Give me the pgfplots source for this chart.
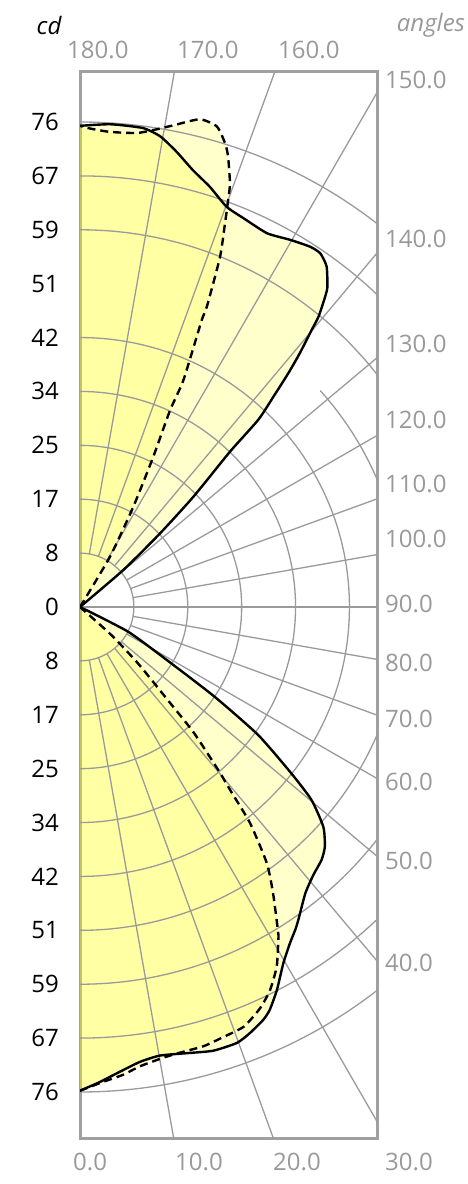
\documentclass[border=0pt]{standalone}
\usepackage{pgfplots}
\pgfplotsset{compat=1.18}
\usepackage{pgfplotstable}
\usepackage{fontspec}
\setmainfont{Open Sans}
\definecolor{gridgray}{HTML}{9A9A9A}
\definecolor{framegray}{HTML}{A0A0A0}
\definecolor{labelgray}{HTML}{999999}
\definecolor{fillyel}{HTML}{FFFF00}

% solid curve, lower half (0-90 deg)
\pgfplotstableread{
a r
0 75.8
2.4 74.5
4.9 73.1
7.5 71.9
10.1 71.4
13.5 71.9
16.7 72.6
19.8 72.6
21.7 71.9
23.9 70.8
25.2 69.8
27.2 67.5
29.7 64.3
32.0 62.1
33.7 60.8
34.9 59.8
38.2 57.1
41.0 55.7
43.7 54.8
45.6 53.7
47.9 51.4
50.2 47.2
51.8 42.1
54.3 34.4
56.3 25.4
58.3 16.8
62.8 8.5
62.8 0
}\solidlow
% solid curve, upper half (90-180 deg)
\pgfplotstableread{
a r
130.5 0
130.5 8.9
132.6 17.0
134.2 24.8
136.0 33.8
136.4 40.5
137.4 44.8
138.3 49.1
139.1 52.6
140.1 56.6
140.6 58.9
141.7 62.0
142.3 63.4
144.1 65.9
145.8 67.0
147.4 67.0
150.2 66.3
153.4 65.5
157.2 66.1
159.9 66.8
162.8 68.9
165.5 70.7
168.0 72.9
170.3 74.8
172.5 75.7
176.4 75.8
180 75.4
}\solidup
% dashed curve, lower half
\pgfplotstableread{
a r
0 75.8
0.8 75.4
2.8 74.5
5.3 73.6
7.4 72.6
10.1 71.9
12.2 71.6
15.7 71.5
18.0 71.1
21.3 70.6
24.2 68.9
26.4 67.0
28.7 64.2
30.8 60.7
31.3 59.8
34.0 54.1
36.1 49.7
38.2 43.1
39.3 37.4
40.3 33.5
42.2 26.4
43.4 19.7
45.8 12.7
48.2 6.6
48.2 0
}\dashlow
% dashed curve, upper half
\pgfplotstableread{
a r
149.2 0
149.2 9.2
152.0 17.8
154.0 26.2
155.4 33.9
155.5 39.1
157.0 48.8
157.1 51.1
158.2 59.1
159.3 64.3
160.0 67.9
160.5 70.4
161.8 74.3
162.6 76.1
164.1 78.3
166.2 78.7
169.0 76.9
171.3 75.6
173.2 74.8
176.4 74.6
178.8 75.0
180 75.4
}\dashup

\begin{document}
\begin{tikzpicture}[x=1pt,y=1pt]
\path[use as bounding box] (0,0) rectangle (467,-1184);
\begin{axis}[
  at={(80pt,-1138pt)}, anchor=south west,
  x=6.3816pt, y=6.3816pt,
  xmin=0, xmax=46.54, ymin=-83.21, ymax=83.99,
  axis line style={framegray, line width=3pt},
  ticks=none,
]
% fills
\addplot[draw=none, fill=fillyel, fill opacity=0.2, smooth, tension=0.35]
  table[x expr={\thisrow{r}*sin(\thisrow{a})}, y expr={-\thisrow{r}*cos(\thisrow{a})}] {\solidlow};
\addplot[draw=none, fill=fillyel, fill opacity=0.2, smooth, tension=0.35]
  table[x expr={\thisrow{r}*sin(\thisrow{a})}, y expr={-\thisrow{r}*cos(\thisrow{a})}] {\solidup};
\addplot[draw=none, fill=fillyel, fill opacity=0.2, smooth, tension=0.35]
  table[x expr={\thisrow{r}*sin(\thisrow{a})}, y expr={-\thisrow{r}*cos(\thisrow{a})}] {\dashlow};
\addplot[draw=none, fill=fillyel, fill opacity=0.2, smooth, tension=0.35]
  table[x expr={\thisrow{r}*sin(\thisrow{a})}, y expr={-\thisrow{r}*cos(\thisrow{a})}] {\dashup};
% grid circles
\pgfplotsinvokeforeach{1,2,3,4,5,7,8,9}{
  \draw[gridgray, line width=1.3pt] (axis cs:0,{-#1*8.4444}) arc[start angle=-90, end angle=90, radius=#1*53.888pt];
}
\draw[gridgray, line width=1.3pt] (axis cs:0,{-6*8.4444}) arc[start angle=-90, end angle=42, radius=6*53.888pt];
% radial lines
\pgfplotsinvokeforeach{10,20,30,40,50,60,70,80,100,110,120,130,140,150,160,170}{
  \draw[gridgray, line width=1.3pt] (axis cs:{8.4444*sin(#1)},{-8.4444*cos(#1)}) -- (axis cs:{200*sin(#1)},{-200*cos(#1)});
}
\draw[gridgray, line width=1.3pt] (axis cs:0,0) -- (axis cs:60,0);
% curves
\addplot[black, line width=2.4pt, line join=round, smooth, tension=0.35]
  table[x expr={\thisrow{r}*sin(\thisrow{a})}, y expr={-\thisrow{r}*cos(\thisrow{a})}] {\solidlow};
\addplot[black, line width=2.4pt, line join=round, smooth, tension=0.35]
  table[x expr={\thisrow{r}*sin(\thisrow{a})}, y expr={-\thisrow{r}*cos(\thisrow{a})}] {\solidup};
\addplot[black, line width=2.4pt, dash pattern=on 8pt off 5pt, smooth, tension=0.35]
  table[x expr={\thisrow{r}*sin(\thisrow{a})}, y expr={-\thisrow{r}*cos(\thisrow{a})}] {\dashlow};
\addplot[black, line width=2.4pt, dash pattern=on 8pt off 5pt, smooth, tension=0.35]
  table[x expr={\thisrow{r}*sin(\thisrow{a})}, y expr={-\thisrow{r}*cos(\thisrow{a})}] {\dashup};
\end{axis}
% cd labels
\foreach \v/\y in {0/607, 8/553.1, 17/499.2, 25/445.3, 34/391.4, 42/337.6, 51/283.7, 59/229.8, 67/175.9, 76/122,
                   8/660.9, 17/714.8, 25/768.7, 34/822.6, 42/876.4, 51/930.3, 59/984.2, 67/1038.1, 76/1092}{
  \node[anchor=east, inner sep=0pt, font=\fontsize{24}{28}\selectfont] at (59,-\y) {\v};
}
\node[inner sep=0pt, font=\fontsize{24}{28}\selectfont\itshape] at (49,-25) {cd};
\node[inner sep=0pt, font=\fontsize{24}{28}\selectfont\itshape, text=labelgray] at (431,-25) {angles};
% angle labels
\foreach \t/\x in {180.0/67, 170.0/177, 160.0/278}{
  \node[anchor=west, inner sep=0pt, font=\fontsize{24}{28}\selectfont, text=labelgray] at (\x,-50) {\t};
}
\foreach \t/\x in {0.0/73, 10.0/175, 20.0/273, 30.0/385}{
  \node[anchor=west, inner sep=0pt, font=\fontsize{24}{28}\selectfont, text=labelgray] at (\x,-1162) {\t};
}
\foreach \t/\y in {150.0/80, 140.0/239, 130.0/344, 120.0/420, 110.0/484, 100.0/539, 90.0/604, 80.0/663, 70.0/719, 60.0/782, 50.0/861, 40.0/963}{
  \node[anchor=west, inner sep=0pt, font=\fontsize{24}{28}\selectfont, text=labelgray] at (385,-\y) {\t};
}
\end{tikzpicture}
\end{document}
